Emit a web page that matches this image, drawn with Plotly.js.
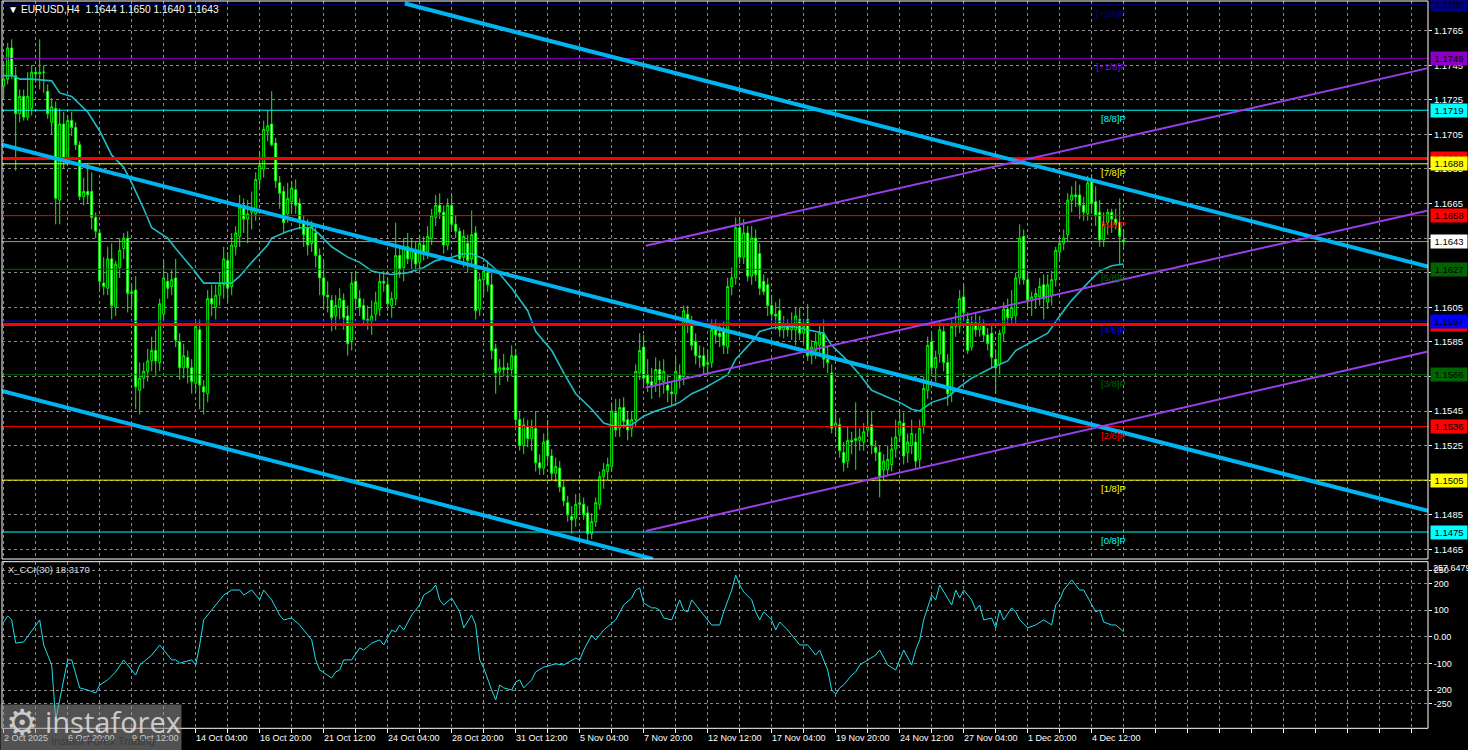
<!DOCTYPE html>
<html><head><meta charset="utf-8">
<script src="https://cdn.plot.ly/plotly-3.0.1.min.js"></script>
<style>html,body{margin:0;padding:0;background:#000;overflow:hidden;} #chart{width:1468px;height:750px;}</style>
</head><body><div id="chart"></div>
<script>
// ---------------- DATA ----------------
const symbol = 'EURUSD', timeframe = 'H4';
const openP = [
1.1733,1.1737,1.1755,1.1739,1.1717,1.1727,1.1715,1.1720,1.1741,1.1740,1.1741,1.1730,1.1712,1.1720,1.1667,1.1711,1.1690,1.1713,1.1709,1.1699,
1.1669,1.1672,1.1672,1.1657,1.1648,1.1619,1.1616,1.1633,1.1605,1.1628,1.1639,1.1645,1.1613,1.1615,1.1557,1.1564,1.1568,1.1574,1.1580,1.1573,
1.1601,1.1620,1.1617,1.1622,1.1585,1.1570,1.1576,1.1570,1.1561,1.1592,1.1559,1.1555,1.1610,1.1605,1.1612,1.1618,1.1632,1.1617,1.1640,1.1646,
1.1664,1.1656,1.1660,1.1659,1.1679,1.1685,1.1707,1.1711,1.1700,1.1677,1.1672,1.1659,1.1666,1.1673,1.1665,1.1654,1.1651,1.1642,1.1648,1.1635,
1.1622,1.1612,1.1609,1.1600,1.1605,1.1609,1.1600,1.1586,1.1620,1.1610,1.1606,1.1598,1.1597,1.1601,1.1604,
1.1620,1.1618,1.1606,1.1610,1.1635,1.1628,1.1640,1.1633,1.1638,1.1631,1.1641,1.1637,1.1645,1.1657,1.1664,1.1660,1.1641,1.1664,1.1653,1.1649,
1.1634,1.1642,1.1633,1.1648,1.1604,1.1621,1.1625,1.1618,1.1581,1.1568,1.1570,1.1569,1.1569,1.1577,1.1540,1.1525,1.1536,1.1529,1.1535,1.1515,
1.1512,1.1528,1.1519,1.1509,1.1512,1.1501,1.1492,1.1484,1.1483,1.1491,1.1491,1.1486,1.1474,1.1481,1.1491,1.1507,1.1510,1.1513,1.1544,1.1535,
1.1547,1.1540,1.1535,1.1540,1.1567,1.1582,1.1566,1.1562,1.1561,1.1569,1.1562,1.1560,1.1556,1.1555,1.1566,1.1565,1.1601,1.1596,1.1585,1.1577,
1.1577,1.1572,1.1573,1.1592,1.1590,1.1591,1.1582,1.1617,1.1622,1.1651,
1.1634,1.1648,1.1623,1.1645,1.1636,1.1620,1.1618,1.1606,1.1601,1.1603,1.1592,1.1594,1.1592,1.1592,1.1598,1.1590,1.1598,1.1577,1.1580,1.1583,
1.1590,1.1575,1.1567,1.1536,1.1537,1.1521,1.1516,1.1528,1.1529,1.1528,1.1527,1.1534,1.1537,1.1524,1.1521,1.1511,1.1511,1.1514,1.1523,1.1531,
1.1538,1.1521,1.1525,1.1527,1.1517,1.1536,1.1557,1.1585,1.1570,1.1578,1.1591,1.1573,1.1555,1.1594,1.1594,1.1611,1.1598,1.1582,1.1596,1.1592,
1.1595,1.1589,1.1590,1.1575,1.1572,1.1590,1.1604,1.1599,1.1600,1.1622,1.1646,1.1621,1.1609,1.1611,1.1611,1.1618,1.1608,1.1612,1.1621,1.1637,
1.1642,1.1647,1.1667,1.1670,1.1670,1.1664,1.1659,1.1678,1.1666,1.1660,1.1644,1.1654,1.1660,1.1656,1.1654,1.1644];
const highP = [
1.1746,1.1758,1.1760,1.1744,1.1731,1.1731,1.1741,1.1745,1.1744,1.1760,1.1745,1.1734,1.1726,1.1724,1.1720,1.1718,1.1716,1.1718,1.1712,1.1701,
1.1680,1.1688,1.1683,1.1660,1.1650,1.1634,1.1640,1.1642,1.1632,1.1645,1.1648,1.1649,1.1618,1.1623,1.1573,1.1573,1.1581,1.1588,1.1592,1.1610,
1.1632,1.1625,1.1627,1.1633,1.1590,1.1584,1.1580,1.1575,1.1597,1.1598,1.1563,1.1615,1.1618,1.1618,1.1625,1.1640,1.1637,1.1648,1.1652,1.1670,
1.1668,1.1667,1.1672,1.1683,1.1695,1.1713,1.1719,1.1730,1.1703,1.1681,1.1675,1.1677,1.1678,1.1679,1.1668,1.1658,1.1656,1.1655,1.1653,1.1639,
1.1632,1.1620,1.1612,1.1612,1.1616,1.1613,1.1606,1.1625,1.1626,1.1615,1.1610,1.1606,1.1609,1.1614,1.1625,
1.1626,1.1622,1.1614,1.1654,1.1641,1.1645,1.1648,1.1645,1.1643,1.1647,1.1646,1.1652,1.1662,1.1670,1.1671,1.1664,1.1668,1.1670,1.1658,1.1651,
1.1650,1.1647,1.1661,1.1652,1.1625,1.1630,1.1632,1.1625,1.1584,1.1575,1.1578,1.1573,1.1583,1.1581,1.1545,1.1541,1.1540,1.1540,1.1545,1.1520,
1.1532,1.1540,1.1523,1.1518,1.1516,1.1505,1.1496,1.1490,1.1497,1.1496,1.1495,1.1490,1.1486,1.1495,1.1510,1.1515,1.1518,1.1550,1.1552,1.1552,
1.1553,1.1545,1.1545,1.1572,1.1590,1.1589,1.1575,1.1570,1.1576,1.1574,1.1575,1.1566,1.1562,1.1576,1.1572,1.1606,1.1606,1.1600,1.1590,1.1583,
1.1582,1.1580,1.1598,1.1598,1.1596,1.1597,1.1622,1.1628,1.1657,1.1657,
1.1656,1.1652,1.1652,1.1650,1.1642,1.1624,1.1622,1.1612,1.1608,1.1610,1.1600,1.1598,1.1602,1.1605,1.1605,1.1598,1.1607,1.1586,1.1590,1.1595,
1.1598,1.1582,1.1572,1.1545,1.1541,1.1527,1.1536,1.1533,1.1550,1.1535,1.1538,1.1545,1.1545,1.1528,1.1525,1.1520,1.1525,1.1530,1.1540,1.1546,
1.1544,1.1532,1.1540,1.1532,1.1540,1.1565,1.1588,1.1590,1.1580,1.1597,1.1596,1.1578,1.1598,1.1602,1.1615,1.1618,1.1602,1.1600,1.1602,1.1600,
1.1598,1.1593,1.1595,1.1580,1.1592,1.1608,1.1610,1.1615,1.1625,1.1653,1.1650,1.1625,1.1614,1.1616,1.1622,1.1624,1.1624,1.1626,1.1640,1.1646,
1.1650,1.1671,1.1675,1.1678,1.1676,1.1669,1.1681,1.1682,1.1675,1.1667,1.1660,1.1662,1.1662,1.1662,1.1668,1.1650];
const lowP = [
1.1726,1.1734,1.1737,1.1684,1.1712,1.1713,1.1713,1.1716,1.1735,1.1731,1.1729,1.1714,1.1705,1.1653,1.1653,1.1685,1.1688,1.1704,1.1696,1.1667,
1.1664,1.1665,1.1650,1.1645,1.1615,1.1612,1.1612,1.1598,1.1600,1.1622,1.1633,1.1602,1.1605,1.1546,1.1543,1.1558,1.1562,1.1568,1.1565,1.1568,
1.1597,1.1610,1.1612,1.1582,1.1563,1.1564,1.1561,1.1555,1.1556,1.1546,1.1543,1.1550,1.1600,1.1598,1.1606,1.1610,1.1608,1.1612,1.1635,1.1640,
1.1648,1.1642,1.1650,1.1655,1.1674,1.1680,1.1701,1.1698,1.1674,1.1662,1.1648,1.1654,1.1660,1.1659,1.1650,1.1640,1.1635,1.1637,1.1628,1.1612,
1.1604,1.1602,1.1591,1.1592,1.1598,1.1592,1.1577,1.1580,1.1605,1.1600,1.1595,1.1592,1.1589,1.1597,1.1600,
1.1614,1.1603,1.1599,1.1606,1.1622,1.1620,1.1630,1.1627,1.1625,1.1626,1.1632,1.1633,1.1641,1.1652,1.1656,1.1636,1.1638,1.1650,1.1645,1.1630,
1.1628,1.1625,1.1630,1.1598,1.1600,1.1612,1.1614,1.1575,1.1555,1.1560,1.1565,1.1562,1.1565,1.1536,1.1522,1.1520,1.1524,1.1522,1.1510,1.1508,
1.1508,1.1515,1.1505,1.1504,1.1498,1.1490,1.1481,1.1474,1.1478,1.1485,1.1482,1.1470,1.1471,1.1478,1.1488,1.1500,1.1505,1.1510,1.1530,1.1530,
1.1535,1.1528,1.1530,1.1536,1.1563,1.1560,1.1556,1.1552,1.1556,1.1553,1.1555,1.1550,1.1548,1.1550,1.1558,1.1560,1.1590,1.1580,1.1572,1.1570,
1.1566,1.1566,1.1570,1.1584,1.1582,1.1578,1.1578,1.1612,1.1618,1.1630,
1.1630,1.1620,1.1618,1.1620,1.1612,1.1612,1.1600,1.1596,1.1592,1.1588,1.1587,1.1588,1.1586,1.1583,1.1586,1.1584,1.1574,1.1572,1.1575,1.1578,
1.1570,1.1567,1.1532,1.1530,1.1518,1.1510,1.1512,1.1520,1.1511,1.1522,1.1522,1.1530,1.1520,1.1516,1.1495,1.1505,1.1508,1.1510,1.1518,1.1527,
1.1514,1.1515,1.1520,1.1512,1.1512,1.1532,1.1552,1.1565,1.1562,1.1573,1.1568,1.1548,1.1550,1.1588,1.1590,1.1598,1.1578,1.1580,1.1588,1.1588,
1.1585,1.1580,1.1570,1.1555,1.1566,1.1585,1.1595,1.1596,1.1595,1.1618,1.1618,1.1605,1.1600,1.1604,1.1606,1.1598,1.1604,1.1606,1.1617,1.1633,
1.1638,1.1643,1.1660,1.1663,1.1656,1.1655,1.1655,1.1660,1.1652,1.1640,1.1640,1.1647,1.1648,1.1650,1.1630,1.1640];
const closeP = [
1.1737,1.1755,1.1739,1.1717,1.1727,1.1715,1.1727,1.1741,1.1740,1.1741,1.1741,1.1717,1.1721,1.1668,1.1711,1.1690,1.1713,1.1709,1.1699,1.1669,
1.1672,1.1670,1.1657,1.1649,1.1620,1.1617,1.1633,1.1606,1.1630,1.1638,1.1645,1.1613,1.1614,1.1559,1.1564,1.1568,1.1574,1.1580,1.1574,1.1607,
1.1622,1.1616,1.1621,1.1586,1.1570,1.1577,1.1570,1.1562,1.1594,1.1560,1.1556,1.1610,1.1607,1.1612,1.1618,1.1633,1.1616,1.1641,1.1648,1.1663,
1.1656,1.1659,1.1662,1.1679,1.1687,1.1708,1.1710,1.1699,1.1678,1.1671,1.1654,1.1668,1.1674,1.1664,1.1655,1.1647,1.1641,1.1652,1.1635,1.1622,
1.1612,1.1611,1.1599,1.1606,1.1610,1.1599,1.1584,1.1619,1.1610,1.1605,1.1598,1.1597,1.1600,1.1608,1.1620,
1.1619,1.1607,1.1610,1.1635,1.1627,1.1640,1.1633,1.1639,1.1630,1.1642,1.1636,1.1646,1.1658,1.1664,1.1660,1.1641,1.1664,1.1653,1.1649,1.1633,
1.1646,1.1632,1.1647,1.1603,1.1621,1.1626,1.1618,1.1580,1.1567,1.1570,1.1569,1.1570,1.1577,1.1540,1.1525,1.1537,1.1529,1.1536,1.1515,1.1512,
1.1527,1.1519,1.1509,1.1513,1.1501,1.1493,1.1485,1.1482,1.1491,1.1492,1.1485,1.1474,1.1481,1.1492,1.1507,1.1511,1.1514,1.1545,1.1534,1.1547,
1.1539,1.1534,1.1540,1.1568,1.1580,1.1564,1.1561,1.1559,1.1569,1.1563,1.1568,1.1557,1.1555,1.1568,1.1563,1.1603,1.1596,1.1583,1.1577,1.1576,
1.1571,1.1573,1.1592,1.1589,1.1588,1.1583,1.1617,1.1622,1.1651,1.1634,
1.1648,1.1623,1.1645,1.1624,1.1616,1.1614,1.1606,1.1601,1.1600,1.1592,1.1595,1.1592,1.1594,1.1600,1.1590,1.1594,1.1577,1.1582,1.1585,1.1590,
1.1575,1.1573,1.1535,1.1538,1.1522,1.1515,1.1528,1.1527,1.1528,1.1530,1.1533,1.1536,1.1525,1.1521,1.1507,1.1516,1.1517,1.1523,1.1530,1.1539,
1.1519,1.1527,1.1532,1.1516,1.1535,1.1558,1.1583,1.1570,1.1576,1.1592,1.1573,1.1555,1.1594,1.1595,1.1610,1.1602,1.1580,1.1596,1.1592,1.1595,
1.1589,1.1584,1.1576,1.1570,1.1590,1.1604,1.1599,1.1605,1.1622,1.1645,1.1621,1.1609,1.1611,1.1613,1.1617,1.1610,1.1618,1.1621,1.1638,1.1642,
1.1645,1.1667,1.1670,1.1669,1.1664,1.1660,1.1677,1.1665,1.1658,1.1644,1.1653,1.1660,1.1656,1.1653,1.1646,1.1643];

// x axis labels (bar index -> label)
const labelIdx = [0,16,32,48,64,80,96,112,128,144,160,176,192,208,224,240,256,272];
const labelText = ['2 Oct 2025','6 Oct 20:00','9 Oct 12:00','14 Oct 04:00','16 Oct 20:00','21 Oct 12:00','24 Oct 04:00','28 Oct 20:00',
  '31 Oct 12:00','5 Nov 04:00','7 Nov 20:00','12 Nov 12:00','17 Nov 04:00','19 Nov 20:00','24 Nov 12:00','27 Nov 04:00','1 Dec 20:00','4 Dec 12:00'];

// moving average
const maIdx = [0,2,4,7,12,14,17,21,24,27,30,32,35,37,41,43,47,50,53,57,59,62,66,67,71,74,77,79,82,86,89,92,94,97,101,105,108,112,115,117,120,123,127,131,133,137,140,143,147,150,153,157,160,163,167,169,172,175,178,181,183,187,189,192,197,201,205,207,211,214,217,221,224,227,229,232,236,239,242,247,251,253,257,261,264,267,271,274,277,280];
const maVal = [1.1739,1.1739,1.1737,1.1737,1.1736,1.1729,1.1727,1.1718,1.1707,1.1693,1.1686,1.1677,1.1662,1.1651,1.1645,1.1639,1.1628,1.1619,1.1619,1.1619,1.1623,1.1631,1.1641,1.1645,1.1649,1.1651,1.1651,1.1647,1.1640,1.1634,1.1631,1.1626,1.1625,1.1624,1.1625,1.1628,1.1632,1.1634,1.1636,1.1636,1.1633,1.1627,1.1616,1.1603,1.1591,1.1580,1.1567,1.1555,1.1546,1.1538,1.1536,1.1537,1.1542,1.1545,1.1548,1.1550,1.1555,1.1558,1.1562,1.1566,1.1575,1.1585,1.1591,1.1593,1.1594,1.1592,1.1590,1.1583,1.1574,1.1566,1.1557,1.1553,1.1550,1.1546,1.1545,1.1550,1.1553,1.1559,1.1564,1.1570,1.1574,1.1580,1.1585,1.1590,1.1600,1.1609,1.1619,1.1626,1.1629,1.1630];

// CCI(30)
const cciIdx = [0,1,2,3,5,7,9,10,12,13,14,16,17,19,21,23,24,26,28,30,31,33,34,37,39,40,42,43,44,47,48,49,50,52,54,55,57,59,60,62,64,65,67,69,70,72,74,77,78,79,82,83,84,85,87,89,90,92,94,95,97,98,99,100,102,103,104,105,107,108,109,110,112,114,115,117,118,119,120,122,123,124,125,127,128,129,130,132,133,135,138,140,143,144,145,147,148,149,150,153,155,157,158,159,160,162,163,164,165,167,169,170,171,172,174,175,177,179,180,182,183,184,185,187,188,189,190,192,193,194,196,198,199,201,203,204,206,207,208,209,210,212,213,214,216,218,219,221,223,224,225,227,228,229,230,232,233,234,235,237,238,239,240,242,243,244,245,247,248,249,250,252,253,254,256,258,260,262,263,264,265,267,268,269,270,272,273,274,275,277,278,280];
const cciVal = [55,78,63,-24,-20,21,63,-31,-106,-312,-237,-87,-87,-192,-200,-211,-181,-162,-132,-87,-106,-144,-106,-69,-31,-50,-87,-87,-99,-87,-106,-31,63,100,138,156,175,175,156,175,138,175,138,81,63,70,44,-12,-87,-125,-155,-132,-125,-87,-87,-42,-50,-24,-12,-31,25,18,44,25,81,100,119,156,175,194,138,119,145,93,33,81,44,-87,-117,-200,-237,-181,-192,-200,-170,-162,-192,-162,-132,-114,-102,-106,-80,-87,-50,6,-12,6,25,63,119,145,175,183,126,108,108,100,70,63,138,100,93,138,100,81,44,44,93,175,231,194,168,138,93,63,93,63,25,55,25,-12,-31,-31,-69,-50,-125,-200,-215,-192,-181,-144,-132,-106,-87,-69,-50,-106,-125,-87,-50,-106,-50,-12,63,156,138,194,168,119,175,145,175,138,100,119,63,70,33,100,63,108,93,63,33,44,63,44,119,138,175,213,194,175,175,119,93,100,55,44,44,18.317];
const cciMaxLabel = 257.6479, cciMinLabel = -343.949;
const cciGridVals = [250,200,100,0,-100,-200,-250];
const cciGridText = ['250','200','100','0.00','-100','-200','-250'];

// Murrey math levels
const mmLevels = [1.1475,1.1505,1.1536,1.1566,1.1597,1.1627,1.1658,1.1688,1.1719,1.1749,1.1780];
const mmNames  = ['[0/8]P','[1/8]P','[2/8]P','[3/8]P','[4/8]P','[5/8]P','[6/8]P','[7/8]P','[8/8]P','[+1/8]P','[+2/8]P'];
const mmColors = ['#00ffff','#ffff00','#ff0000','#006400','#0000ff','#006400','#ff0000','#ffff00','#00ffff','#8b00c9','#000080'];
const redLevels = [1.1691, 1.1595];

// trend channel lines: [bar0, price0, bar1, price1]
const blueLines = [[100.3,1.17807,356.1,1.16285],[-0.425,1.1699,356.1,1.14872],[-0.425,1.15566,162.3,1.14594]];
const purpleLines = [[160.5,1.16406,355.8,1.17432],[160.5,1.15586,355.8,1.16609],[160.5,1.14756,355.8,1.15793]];

// ---------------- LAYOUT ----------------
const W = 1468, H = 750, ML = 2, MR = 40;
const PW = W - ML - MR;
const px = v => (v - ML) / PW;      // pixel x -> paper
const py = v => 1 - v / H;          // pixel y -> paper
const FONT = 'Tahoma, "Liberation Sans", Arial, sans-serif';
const FS = 9;
const n = closeP.length;
const xs = closeP.map((_, i) => i);
const gridIdx = []; for (let k = 0; k <= 352; k += 8) gridIdx.push(k);

const mainDom = [py(559), py(1)];
const cciDom = [py(728.3), py(561.7)];
const gridStyle = {showgrid: true, gridcolor: '#8a8a8a', griddash: '3px,3px', gridwidth: 1, zeroline: false};

const traces = [
  {type: 'candlestick', x: xs, open: openP, high: highP, low: lowP, close: closeP, xaxis: 'x', yaxis: 'y',
   increasing: {line: {color: '#00ff00', width: 1}, fillcolor: '#000000'},
   decreasing: {line: {color: '#00ff00', width: 1}, fillcolor: '#ffffff'},
   whiskerwidth: 0, hoverinfo: 'skip', showlegend: false},
  {type: 'scatter', mode: 'lines', x: maIdx, y: maVal, xaxis: 'x', yaxis: 'y', line: {color: '#20bcc4', width: 1.6}, hoverinfo: 'skip', showlegend: false},
  {type: 'scatter', mode: 'lines', x: cciIdx, y: cciVal, xaxis: 'x', yaxis: 'y2', line: {color: '#22dcec', width: 1}, hoverinfo: 'skip', showlegend: false}
];

const shapes = [];
mmLevels.forEach((lv, i) => shapes.push({type: 'line', xref: 'paper', x0: 0, x1: 1, yref: 'y', y0: lv, y1: lv, line: {color: mmColors[i], width: 1}, layer: 'above'}));
redLevels.forEach(lv => shapes.push({type: 'line', xref: 'paper', x0: 0, x1: 1, yref: 'y', y0: lv, y1: lv, line: {color: '#ff0000', width: 3}, layer: 'above'}));
const lastClose = closeP[n - 1];
shapes.push({type: 'line', xref: 'paper', x0: 0, x1: 1, yref: 'y', y0: lastClose, y1: lastClose, line: {color: '#9a9a9a', width: 1}, layer: 'above'});
blueLines.forEach(l => shapes.push({type: 'line', xref: 'x', yref: 'y', x0: l[0], y0: l[1], x1: l[2], y1: l[3], line: {color: '#00b4f0', width: 4}, layer: 'above'}));
purpleLines.forEach(l => shapes.push({type: 'line', xref: 'x', yref: 'y', x0: l[0], y0: l[1], x1: l[2], y1: l[3], line: {color: '#9a3ee8', width: 2}, layer: 'above'}));
// panel frames
shapes.push({type: 'rect', xref: 'paper', yref: 'paper', x0: 0, x1: 1, y0: mainDom[0], y1: mainDom[1], line: {color: '#ffffff', width: 1}, layer: 'above'});
shapes.push({type: 'rect', xref: 'paper', yref: 'paper', x0: 0, x1: 1, y0: cciDom[0], y1: cciDom[1], line: {color: '#ffffff', width: 1}, layer: 'above'});

const ann = [];
const f = (size, color) => ({family: FONT, size: size, color: color});
// header
ann.push({xref: 'paper', yref: 'paper', x: px(6), y: py(10), xanchor: 'left', yanchor: 'middle', showarrow: false,
  text: '\u25BC ' + symbol + ',' + timeframe + '&nbsp;&nbsp;' + [openP[n-1], highP[n-1], lowP[n-1], closeP[n-1]].map(v => v.toFixed(4)).join(' '),
  font: f(10.2, '#ffffff')});
// CCI label
ann.push({xref: 'paper', yref: 'paper', x: px(6), y: py(569), xanchor: 'left', yanchor: 'middle', showarrow: false,
  text: 'X_CCI(30) ' + cciVal[cciVal.length - 1].toFixed(4), font: f(9.5, '#d8d8d8')});
// time labels, left-aligned on their tick like the terminal draws them
labelIdx.forEach((k, i) => ann.push({xref: 'x', yref: 'paper', x: k, y: py(738), xanchor: 'left', yanchor: 'middle', xshift: -2, showarrow: false,
  text: labelText[i], font: f(FS, '#ffffff')}));
// murrey labels on chart
mmLevels.forEach((lv, i) => ann.push({xref: 'x', yref: 'y', x: n, y: lv, xanchor: 'right', yanchor: 'top', yshift: -1, showarrow: false,
  text: mmNames[i], font: f(FS + 0.5, mmColors[i])}));
// price boxes on the right axis
const box = (lv, bg, fg) => ({xref: 'paper', yref: 'y', x: 1, y: lv, xanchor: 'left', xshift: 2, yanchor: 'middle', showarrow: false,
  text: lv.toFixed(4), bgcolor: bg, font: f(FS + 0.5, fg), borderpad: 1, width: 34});
redLevels.forEach(lv => ann.push(box(lv, '#ff0000', '#000000')));
mmLevels.forEach((lv, i) => ann.push(box(lv, mmColors[i], '#000000')));
ann.push(box(lastClose, '#ffffff', '#000000'));
// CCI extreme labels
ann.push({xref: 'paper', yref: 'y2', x: 1, xshift: 3, y: cciMaxLabel, xanchor: 'left', yanchor: 'middle', showarrow: false, text: cciMaxLabel.toString(), font: f(FS, '#ffffff')});
ann.push({xref: 'paper', yref: 'y2', x: 1, xshift: 3, y: cciMinLabel, xanchor: 'left', yanchor: 'bottom', showarrow: false, text: cciMinLabel.toString(), font: f(FS, '#ffffff')});
// watermark (drawn over the bottom-left corner)
const wm = [];
wm.push({xref: 'paper', yref: 'paper', x: px(0), y: py(704), xanchor: 'left', yanchor: 'top', showarrow: false, text: '',
  bgcolor: 'rgba(150,150,150,0.55)', width: 180, height: 46, borderpad: 0});
wm.push({xref: 'paper', yref: 'paper', x: px(22), y: py(722), xanchor: 'center', yanchor: 'middle', showarrow: false, text: '\u2699', font: {family: '"DejaVu Sans", sans-serif', size: 36, color: 'rgba(225,225,225,0.85)'}});
wm.push({xref: 'paper', yref: 'paper', x: px(43), y: py(721), xanchor: 'left', yanchor: 'middle', showarrow: false, text: 'instaforex', font: {family: '"Open Sans", "Liberation Sans", sans-serif', size: 29, color: 'rgba(225,225,225,0.85)'}});
wm.push({xref: 'paper', yref: 'paper', x: px(49), y: py(741), xanchor: 'left', yanchor: 'middle', showarrow: false, text: 'Instant Forex Trading', font: f(11, '#3a3a3a')});

const layout = {
  width: W, height: H, margin: {l: ML, r: MR, t: 0, b: 0, pad: 0},
  paper_bgcolor: '#000000', plot_bgcolor: '#000000', showlegend: false, dragmode: false,
  xaxis: Object.assign({domain: [0, 1], anchor: 'y2', range: [-0.425, 356.075], tickmode: 'array', tickvals: gridIdx, showticklabels: false,
    ticks: 'outside', ticklen: 4, tickcolor: '#ffffff', showline: false, rangeslider: {visible: false}, fixedrange: true}, gridStyle),
  yaxis: Object.assign({domain: mainDom, anchor: 'x', side: 'right', range: [1.145939, 1.178218], tickmode: 'linear', tick0: 1.1465, dtick: 0.002,
    tickformat: '.4f', ticks: 'outside', ticklen: 3, tickcolor: '#ffffff', tickfont: f(FS + 0.5, '#ffffff'), showline: false, fixedrange: true}, gridStyle),
  yaxis2: Object.assign({domain: cciDom, anchor: 'x', side: 'right', range: [-343.5, 281.25], tickmode: 'array', tickvals: cciGridVals, ticktext: cciGridText,
    ticks: 'outside', ticklen: 3, tickcolor: '#ffffff', tickfont: f(FS, '#ffffff'), showline: false, fixedrange: true}, gridStyle),
  shapes: shapes, annotations: ann.concat(wm)
};

Plotly.newPlot('chart', traces, layout, {staticPlot: true, displayModeBar: false});
</script></body></html>
